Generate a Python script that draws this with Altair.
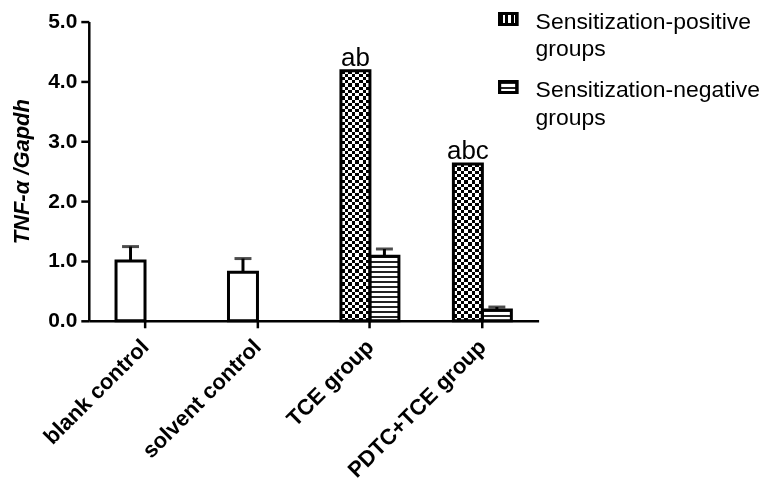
import altair as alt
import pandas as pd

# ---- data ----
groups = ["blank control", "solvent control", "TCE group", "PDTC+TCE group"]
bar_group = ["blank control", "solvent control", "TCE group", "TCE group", "PDTC+TCE group", "PDTC+TCE group"]
bar_slot = ["pos", "pos", "pos", "neg", "pos", "neg"]
bar_kind = ["control", "control", "positive", "negative", "positive", "negative"]
bar_value = [1.00, 0.81, 4.18, 1.08, 2.62, 0.18]
bar_err = [0.24, 0.23, 0.0, 0.12, 0.0, 0.05]
bar_label = ["", "", "ab", "", "abc", ""]
legend_labels = ["Sensitization-positive\ngroups", "Sensitization-negative\ngroups"]
y_ticks = [0, 1, 2, 3, 4, 5]

df = pd.DataFrame({
    "group": bar_group, "slot": bar_slot, "kind": bar_kind,
    "value": bar_value, "err": bar_err, "label": bar_label,
})
df["top"] = df["value"] + df["err"]
df["id"] = range(len(df))

W, H = 451, 300
PX_PER_UNIT = H / 5.0
SLOT_W = 29


def stripes(n, frac, vertical_bands, dark="black"):
    stops = []
    for k in range(n):
        a = k / n
        b = (k + frac) / n
        c = (k + 1) / n
        stops += [
            {"offset": a, "color": dark},
            {"offset": b, "color": dark},
            {"offset": b, "color": "white"},
            {"offset": c, "color": "white"},
        ]
    g = {"gradient": "linear", "x1": 0, "y1": 0, "stops": stops}
    if vertical_bands:
        g.update({"x2": 1, "y2": 0})
    else:
        g.update({"x2": 0, "y2": 1})
    return g


xenc = alt.X("group:N", sort=groups, title=None,
             scale=alt.Scale(domain=groups, paddingInner=0, paddingOuter=0),
             axis=alt.Axis(labelAngle=-45, labelFontSize=22, labelFontWeight="bold",
                           labelColor="black", domainColor="black", domainWidth=2.5,
                           tickColor="black", tickWidth=2.5, tickSize=7, labelPadding=15,
                           labelAlign="right", labelBaseline="middle", labelLimit=300))
xoff = alt.XOffset("slot:N", scale=alt.Scale(domain=["pos", "neg"], paddingInner=0, paddingOuter=0.94))
yenc = alt.Y("value:Q", scale=alt.Scale(domain=[0, 5], nice=False, zero=True),
             axis=alt.Axis(values=y_ticks, format=".1f", title="TNF-α /Gapdh",
                           titleFontSize=22, titleFontWeight="bold", titleFontStyle="italic",
                           titleColor="black", titlePadding=14,
                           labelFontSize=21, labelFontWeight="bold", labelColor="black",
                           labelPadding=4, domainColor="black", domainWidth=2.5,
                           tickColor="black", tickWidth=2.5, tickSize=8, grid=False))

base = alt.Chart(df).encode(x=xenc, xOffset=xoff, y=yenc)

layers = []
for i in range(len(df)):
    kind = bar_kind[i]
    hpx = bar_value[i] * PX_PER_UNIT
    sel = base.transform_filter(alt.datum.id == i)
    if kind == "positive":
        nv = max(1, round(SLOT_W / 6.5))
        nh = max(1, round(hpx / 6.5))
        layers.append(sel.mark_bar(fill=stripes(nv, 0.5, True), strokeWidth=0))
        layers.append(sel.mark_bar(fill=stripes(nh, 0.5, False), strokeWidth=0, blend="difference"))
    elif kind == "negative":
        nh = max(1, round(hpx / 5))
        layers.append(sel.mark_bar(fill=stripes(nh, 0.35, False, "#222222"), strokeWidth=0))
    else:
        layers.append(sel.mark_bar(fill="white", strokeWidth=0))

outline = base.mark_bar(fill="white", fillOpacity=0, stroke="black", strokeWidth=3)
err_df = base.transform_filter(alt.datum.err > 0)
err_rule = err_df.mark_rule(color="black", strokeWidth=3).encode(y2="top:Q")
err_cap = err_df.mark_tick(color="black", thickness=3, size=17).encode(y="top:Q")
labels = base.transform_filter(alt.datum.label != "").mark_text(
    fontSize=26, baseline="alphabetic", dy=-5, color="black").encode(text="label:N")

# ---- legend (drawn by hand, because of the fill patterns) ----
sw_x, sw_x2 = 412, 429
leg_pos_a = alt.Chart(df).mark_rect(fill=stripes(3, 0.5, True), strokeWidth=0).encode(
    x=alt.value(sw_x), x2=alt.value(sw_x2), y=alt.value(-8), y2=alt.value(3))
leg_pos_b = alt.Chart(df).mark_rect(fill=stripes(2, 0.5, False), strokeWidth=0, blend="difference").encode(
    x=alt.value(sw_x), x2=alt.value(sw_x2), y=alt.value(-8), y2=alt.value(3))
leg_pos_o = alt.Chart(df).mark_rect(fill="white", fillOpacity=0, stroke="black", strokeWidth=3).encode(
    x=alt.value(sw_x), x2=alt.value(sw_x2), y=alt.value(-8), y2=alt.value(3))
leg_neg = alt.Chart(df).mark_rect(fill=stripes(2, 0.4, False, "#222222"), stroke="black", strokeWidth=3).encode(
    x=alt.value(sw_x), x2=alt.value(sw_x2), y=alt.value(60), y2=alt.value(71))

leg_df = pd.DataFrame({"label": legend_labels, "row": [0, 1]})
leg_text = []
for r, yy in zip([0, 1], [0, 69]):
    leg_text.append(
        alt.Chart(leg_df).transform_filter(alt.datum.row == r).mark_text(
            align="left", baseline="middle", fontSize=23, lineBreak="\n", lineHeight=28,
            color="black").encode(text="label:N", x=alt.value(448), y=alt.value(yy))
    )

chart = alt.layer(*layers, outline, err_rule, err_cap, labels,
                  leg_pos_a, leg_pos_b, leg_pos_o, leg_neg, *leg_text).properties(
    width=W, height=H,
    autosize=alt.AutoSizeParams(type="none"),
    padding={"left": 81, "top": 13, "right": 232, "bottom": 160},
    background="white",
).configure(font="Liberation Sans").configure_view(stroke=None)

chart.save("out.html", embed_options={"renderer": "svg", "actions": False})
